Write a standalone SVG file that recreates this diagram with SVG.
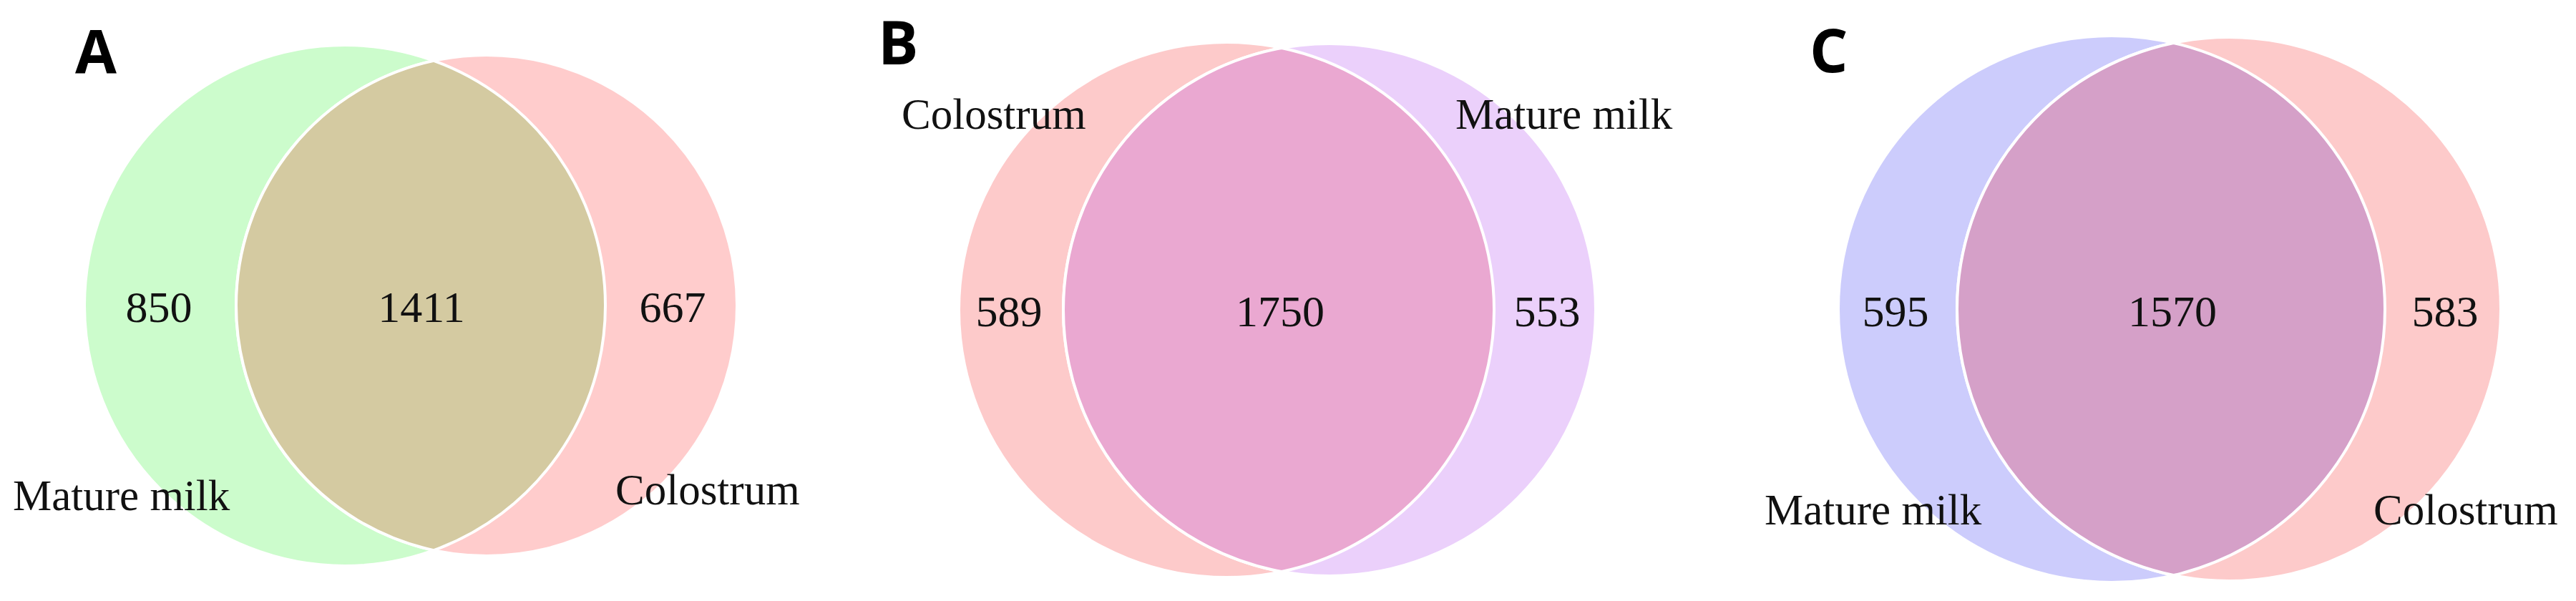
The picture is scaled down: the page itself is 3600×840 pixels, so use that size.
<svg xmlns="http://www.w3.org/2000/svg" width="3600" height="840" viewBox="0 0 3600 840">
<style>
.set{stroke:#ffffff;stroke-width:4}
.lens{stroke:#ffffff;stroke-width:4}
.num{font-family:"Liberation Serif","Times New Roman",serif;font-size:62px;fill:#111111;text-anchor:middle}
.lbl{font-family:"Liberation Serif","Times New Roman",serif;font-size:61px;fill:#111111}
.panel{font-family:"Open Sans","DejaVu Sans",sans-serif;font-weight:700;font-size:84px;fill:#000000}
</style>
<rect width="3600" height="840" fill="#ffffff"/>

<g id="panelA">
  <text class="panel" x="105" y="102">A</text>
  <g id="A-mature"><circle class="set" cx="482" cy="427" r="364" fill="#CCFCCC"/></g>
  <g id="A-colostrum"><circle class="set" cx="680" cy="427" r="350" fill="#FFCCCC"/></g>
  <g id="A-overlap"><path class="lens" d="M606.24 84.86 A364 364 0 0 1 606.24 769.14 A350 350 0 0 1 606.24 84.86 Z" fill="#D4CAA1"/></g>
  <text class="num" x="222" y="450">850</text>
  <text class="num" x="589" y="450">1411</text>
  <text class="num" x="940" y="450">667</text>
  <text class="lbl" x="18" y="713">Mature milk</text>
  <text class="lbl" x="860" y="705">Colostrum</text>
</g>

<g id="panelB">
  <text class="panel" x="1227" y="90">B</text>
  <g id="B-colostrum"><circle class="set" cx="1714" cy="433" r="374" fill="#FDCACA"/></g>
  <g id="B-mature"><circle class="set" cx="1858" cy="433" r="372" fill="#EBD0FB"/></g>
  <g id="B-overlap"><path class="lens" d="M1791.18 67.05 A374 374 0 0 1 1791.18 798.95 A372 372 0 0 1 1791.18 67.05 Z" fill="#EAA8D1"/></g>
  <text class="num" x="1410" y="456">589</text>
  <text class="num" x="1789" y="456">1750</text>
  <text class="num" x="2162" y="456">553</text>
  <text class="lbl" x="1260" y="180">Colostrum</text>
  <text class="lbl" x="2034" y="180">Mature milk</text>
</g>

<g id="panelC">
  <text class="panel" x="2529" y="101">C</text>
  <g id="C-mature"><circle class="set" cx="2951" cy="432" r="382" fill="#CCCCFC"/></g>
  <g id="C-colostrum"><circle class="set" cx="3115" cy="432" r="380" fill="#FDCACA"/></g>
  <g id="C-overlap"><path class="lens" d="M3037.65 59.96 A382 382 0 0 1 3037.65 804.04 A380 380 0 0 1 3037.65 59.96 Z" fill="#D5A0C8"/></g>
  <text class="num" x="2649" y="456">595</text>
  <text class="num" x="3036" y="456">1570</text>
  <text class="num" x="3417" y="456">583</text>
  <text class="lbl" x="2466" y="733">Mature milk</text>
  <text class="lbl" x="3317" y="733">Colostrum</text>
</g>
</svg>
